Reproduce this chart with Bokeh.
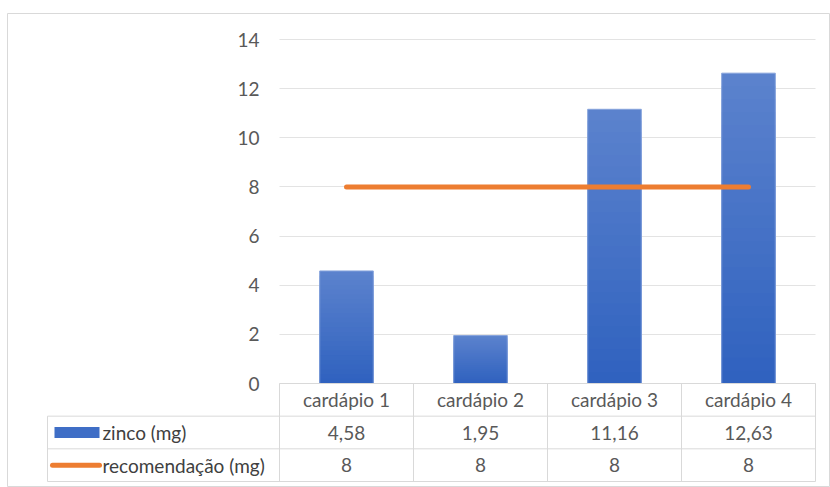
from bokeh.plotting import figure
from bokeh.models import Range1d, FixedTicker
from bokeh.core.properties import value
from bokeh.embed import file_html
from bokeh.resources import INLINE

# ---- data ----
categories = ["cardápio 1", "cardápio 2", "cardápio 3", "cardápio 4"]
zinco = [4.58, 1.95, 11.16, 12.63]
recomendacao = [8, 8, 8, 8]
series_names = ["zinco (mg)", "recomendação (mg)"]
y_ticks = [0, 2, 4, 6, 8, 10, 12, 14]

# ---- layout constants (page pixels) ----
W, H = 830, 487
PAGE_X0, PAGE_Y0 = 0, 0
TOP = 13                  # frame top (page)
LEFT = 7                  # frame left (page)
BOT = PAGE_Y0 + H         # frame bottom (page)
X0_PX = 279               # x=0 (page)
CAT_PX = 134              # px per category
Y0_PX = 383               # y=0 (page)
Y14_PX = 39               # y=14 (page)
PX_PER_Y = (Y0_PX - Y14_PX) / 14.0
ROW_PX = (481 - 383) / 3.0
LEFT_COL_PX = 47

x_start = (LEFT - X0_PX) / CAT_PX
x_end = (PAGE_X0 + W - 1 - X0_PX) / CAT_PX
y_start = -(BOT - Y0_PX) / PX_PER_Y
y_end = (Y0_PX - TOP) / PX_PER_Y
t_start = (BOT - Y0_PX) / ROW_PX
t_end = -(Y0_PX - TOP) / ROW_PX
left_col = (LEFT_COL_PX - X0_PX) / CAT_PX

FONT = value("Lato")
FS = "19px"
TXT = "#595959"
LINE = "#d9d9d9"

p = figure(width=W, height=H, output_backend="svg", toolbar_location=None,
           x_range=Range1d(x_start, x_end), y_range=Range1d(y_start, y_end),
           min_border_left=LEFT - PAGE_X0, min_border_right=1, min_border_bottom=0,
           min_border_top=TOP - PAGE_Y0)
p.extra_y_ranges = {"table": Range1d(t_start, t_end)}
p.outline_line_color = "#d9d9d9"
p.outline_line_width = 1
p.background_fill_color = "white"
p.border_fill_color = "white"

p.xaxis.visible = False
p.xgrid.visible = False

ax = p.yaxis[0]
ax.fixed_location = 0
ax.bounds = (0, 14)
ax.ticker = FixedTicker(ticks=y_ticks)
ax.axis_line_color = None
ax.major_tick_line_color = None
ax.minor_tick_line_color = None
ax.major_tick_in = 0
ax.major_tick_out = 0
ax.major_label_standoff = 20
ax.major_label_text_font = "Lato"
ax.major_label_text_font_size = FS
ax.major_label_text_color = TXT

g = p.ygrid[0]
g.ticker = FixedTicker(ticks=y_ticks)
g.grid_line_color = "#e3e3e3"
g.grid_line_width = 1
grid_ok = True
try:
    g.cross_bounds = (0, len(categories))
except Exception:
    grid_ok = False
if not grid_ok:
    g.visible = False
    p.segment(x0=[0] * len(y_ticks), x1=[len(categories)] * len(y_ticks),
              y0=y_ticks, y1=y_ticks, line_color="#e3e3e3", line_width=1)

# ---- bars with vertical gradient ----
xc = [i + 0.5 for i in range(len(categories))]
top_c = (0x5B, 0x82, 0xCD)
bot_c = (0x30, 0x62, 0xBF)
N = 24
for i in range(N):
    f = i / (N - 1)
    col = "#%02x%02x%02x" % tuple(int(round(a + (b - a) * f)) for a, b in zip(top_c, bot_c))
    tops = [v * (1 - i / N) for v in zinco]
    p.vbar(x=xc, top=tops, bottom=0, width=0.4, fill_color=col, line_color=None)
p.vbar(x=xc, top=zinco, bottom=0, width=0.4, fill_color=None,
       line_color="#86a3dc", line_width=1)

# ---- recommendation line ----
p.line(x=xc, y=recomendacao, line_color="#ED7D31", line_width=5, line_cap="round")

# ---- data table ----
n = len(categories)
p.segment(x0=[0, left_col, left_col, left_col], x1=[n, n, n, n],
          y0=[0, 1, 2, 3], y1=[0, 1, 2, 3], line_color=LINE, line_width=1,
          y_range_name="table")
vx = list(range(n + 1))
p.segment(x0=vx + [left_col], x1=vx + [left_col],
          y0=[0] * (n + 1) + [1], y1=[3] * (n + 1) + [3],
          line_color=LINE, line_width=1, y_range_name="table")

p.text(x=xc, y=[0.5] * n, text=categories, text_font=FONT, text_font_size=FS,
       text_color=TXT, text_align="center", text_baseline="middle", y_range_name="table")
zlabels = [("%.2f" % v).replace(".", ",") for v in zinco]
rlabels = [str(v) for v in recomendacao]
p.text(x=xc, y=[1.5] * n, text=zlabels, text_font=FONT, text_font_size=FS,
       text_color=TXT, text_align="center", text_baseline="middle", y_range_name="table")
p.text(x=xc, y=[2.5] * n, text=rlabels, text_font=FONT, text_font_size=FS,
       text_color=TXT, text_align="center", text_baseline="middle", y_range_name="table")

key_x0 = (54 - X0_PX) / CAT_PX
key_x1 = (99 - X0_PX) / CAT_PX
p.quad(left=[key_x0], right=[key_x1], top=[1.5 - 5.5 / ROW_PX], bottom=[1.5 + 5.5 / ROW_PX],
       fill_color="#3f6ec6", line_color=None, y_range_name="table")
p.segment(x0=[(52 - X0_PX) / CAT_PX], x1=[(99 - X0_PX) / CAT_PX], y0=[2.5], y1=[2.5],
          line_color="#ED7D31", line_width=5, line_cap="round", y_range_name="table")
lab_x = (102 - X0_PX) / CAT_PX
p.text(x=[lab_x, lab_x], y=[1.5, 2.5], text=series_names, text_font=FONT,
       text_font_size=FS, text_color="#404040", text_align="left",
       text_baseline="middle", y_range_name="table")

open("out.html", "w").write(file_html(p, INLINE))
